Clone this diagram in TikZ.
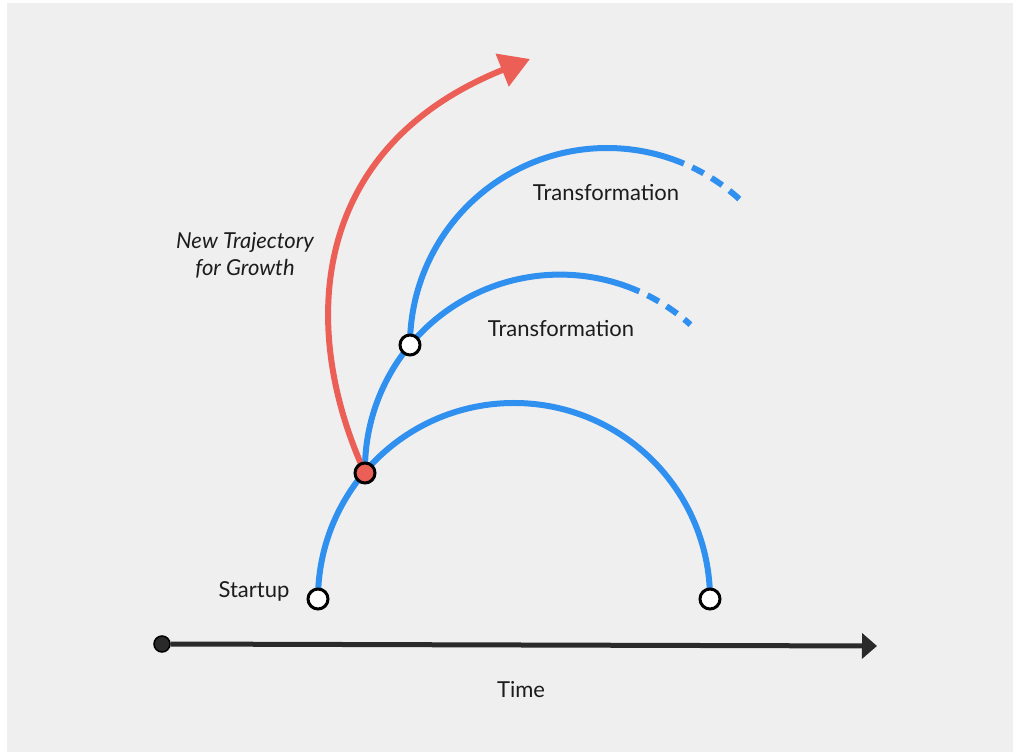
\documentclass[tikz,border=0pt]{standalone}
\usepackage{fontspec}
\setmainfont{Lato}
\usetikzlibrary{arrows.meta}
\definecolor{bgray}{HTML}{EFEFEF}
\definecolor{tblue}{HTML}{2F90F0}
\definecolor{tred}{HTML}{EB5F57}
\definecolor{tink}{HTML}{1C1C1C}
\definecolor{taxis}{HTML}{2A2A2A}
\pgfdeclarelayer{bglayer}
\pgfdeclarelayer{edgelayer}
\pgfsetlayers{bglayer,edgelayer,main}

\begin{document}
\begin{tikzpicture}[x=1pt,y=1pt,
  blue arc/.style={tblue,line width=6pt},
  dash end/.style={dash pattern=on 13pt off 9pt,dash phase=13pt},
  red arc/.style={tred,line width=6pt,-{Triangle[length=30pt,width=34pt]}},
  dot/.style={circle,draw=black,line width=3pt,fill=white,minimum size=20pt,inner sep=0pt},
  tdot/.style={circle,draw=black,line width=1.5pt,fill=taxis,minimum size=16pt,inner sep=0pt},
  time/.style={taxis,line width=5pt,-{Triangle[length=15pt,width=25pt]}},
  label/.style={text=tink,font=\fontsize{22}{26}\selectfont}]
\useasboundingbox (0,0) rectangle (1013,752);
\begin{pgfonlayer}{bglayer}
\fill[white] (0,0) rectangle (1013,752);
\fill[bgray] (7,0) rectangle (1013,749);
\end{pgfonlayer}
\node[dot] (S) at (318,153) {};
\node[dot] (E) at (710,153) {};
\node[dot,fill=tred] (R) at (365,279) {};
\node[dot] (W) at (410,407) {};
\coordinate (A) at (530,693);
\node[tdot] (T) at (162,108) {};
\coordinate (TE) at (877,106);
\node[label] (TA) at (606,559) {Transformation};
\node[label] (TB) at (561,423) {Transformation};
\node[label,font=\itshape\fontsize{22}{27}\selectfont,align=center] (NT) at (245,497) {New Trajectory\\for Growth};
\node[label] (ST) at (254,161) {Startup};
\node[label] (TI) at (521,62) {Time};
\begin{pgfonlayer}{edgelayer}
\draw[blue arc] (S.center) arc[start angle=180,end angle=0,radius=196];
\draw[blue arc] (R.center) arc[start angle=181,end angle=66,radius=195] coordinate (M);
\draw[blue arc,dash end] (M) arc[start angle=66,end angle=48,radius=195];
\draw[blue arc] (W.center) arc[start angle=180,end angle=67,radius=197] coordinate (N);
\draw[blue arc,dash end] (N) arc[start angle=67,end angle=47.5,radius=197];
\draw[red arc] (R.center) .. controls (298,425) and (310,605) .. (A);
\end{pgfonlayer}
\draw[time] (T) -- (TE);
\end{tikzpicture}
\end{document}
